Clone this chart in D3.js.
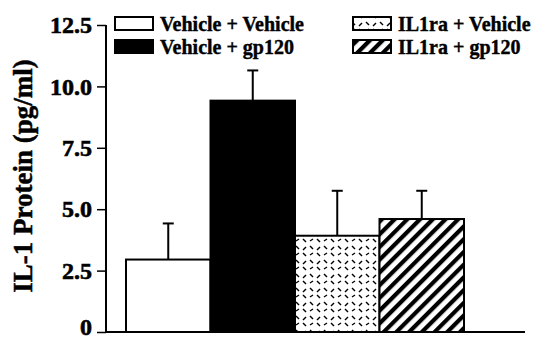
<!DOCTYPE html>
<html>
<head>
<meta charset="utf-8">
<script src="https://cdn.jsdelivr.net/npm/d3@7"></script>
<style>
  html, body { margin: 0; padding: 0; background: #fff; }
  svg { display: block; }
  text { font-family: "Liberation Serif", "Times New Roman", serif; font-weight: bold; fill: #000; stroke: #000; stroke-width: 0.4px; }
</style>
</head>
<body>
<svg id="chart" width="542" height="340"></svg>
<script>
// Treatment groups, mean IL-1 protein and upper error limit (mean + SEM)
const groups = ["Vehicle + Vehicle", "Vehicle + gp120", "IL1ra + Vehicle", "IL1ra + gp120"];
const means = [2.95, 9.42, 3.92, 4.6];
const upper = [4.42, 10.65, 5.75, 5.75];
const fills = ["white", "black", "url(#dots)", "url(#stripes)"];
const yTicks = [0, 2.5, 5.0, 7.5, 10.0, 12.5];
const yTickLabels = ["0", "2.5", "5.0", "7.5", "10.0", "12.5"];

const svg = d3.select("#chart");

// Fill patterns
const defs = svg.append("defs");
const dots = defs.append("pattern")
  .attr("id", "dots").attr("patternUnits", "userSpaceOnUse")
  .attr("width", 14).attr("height", 14);
dots.append("rect").attr("width", 14).attr("height", 14).attr("fill", "white");
[[2, 3, 5, 1], [9, 1, 12, 4], [2, 8, 5, 11], [9, 12, 12, 9]].forEach(s => {
  dots.append("line")
    .attr("x1", s[0]).attr("y1", s[1]).attr("x2", s[2]).attr("y2", s[3])
    .attr("stroke", "black").attr("stroke-width", 1.4);
});
const stripes = defs.append("pattern")
  .attr("id", "stripes").attr("patternUnits", "userSpaceOnUse")
  .attr("width", 9).attr("height", 9)
  .attr("patternTransform", "rotate(45)");
stripes.append("rect").attr("width", 9).attr("height", 9).attr("fill", "white");
stripes.append("rect").attr("width", 4.2).attr("height", 9).attr("fill", "black");

const y = d3.scaleLinear().domain([0, 12.5]).range([332, 25]);
const x = d3.scaleBand().domain(groups).range([126, 464]).padding(0);

// Y axis
const yAxis = d3.axisLeft(y)
  .tickValues(yTicks)
  .tickFormat((d, i) => yTickLabels[i])
  .tickSize(9).tickPadding(5);
const gy = svg.append("g").attr("transform", "translate(106,0)").call(yAxis);
gy.select(".domain").attr("stroke-width", 2).attr("d", "M0,25V332");
gy.selectAll(".tick line").attr("stroke-width", 1.5);
gy.selectAll(".tick text")
  .style("font-size", "24px").style("font-family", "Liberation Serif").style("font-weight", "bold")
  .style("stroke-width", "0.6px")
  .attr("dy", d => d === 0 ? "0.1em" : "0.32em");

// X axis baseline
svg.append("line")
  .attr("x1", 105).attr("x2", 525)
  .attr("y1", y(0)).attr("y2", y(0))
  .attr("stroke", "black").attr("stroke-width", 2);

// Error bars (upper only)
const eb = svg.append("g");
groups.forEach((g, i) => {
  const cx = x(g) + x.bandwidth() / 2;
  eb.append("line").attr("x1", cx).attr("x2", cx)
    .attr("y1", y(means[i])).attr("y2", y(upper[i]))
    .attr("stroke", "black").attr("stroke-width", 2);
  eb.append("line").attr("x1", cx - 5.5).attr("x2", cx + 5.5)
    .attr("y1", y(upper[i])).attr("y2", y(upper[i]))
    .attr("stroke", "black").attr("stroke-width", 2);
});

// Bars
svg.append("g").selectAll("rect").data(groups).join("rect")
  .attr("x", d => x(d))
  .attr("y", (d, i) => y(means[i]))
  .attr("width", x.bandwidth())
  .attr("height", (d, i) => y(0) - y(means[i]))
  .attr("fill", (d, i) => fills[i])
  .attr("stroke", "black").attr("stroke-width", 2);

// Y axis title
svg.append("text")
  .attr("transform", "translate(32,176) rotate(-90)")
  .attr("text-anchor", "middle")
  .style("font-size", "27px")
  .style("stroke-width", "0.5px")
  .text("IL-1 Protein (pg/ml)");

// Legend
const legendPos = [[115, 17], [115, 40], [353, 17], [353, 40]];
const legend = svg.append("g");
groups.forEach((g, i) => {
  const [lx, ly] = legendPos[i];
  legend.append("rect").attr("x", lx).attr("y", ly)
    .attr("width", 38).attr("height", 13)
    .attr("fill", fills[i]).attr("stroke", "black").attr("stroke-width", 2);
  legend.append("text").attr("x", lx + 45).attr("y", ly + 14)
    .style("font-size", "20px").text(g);
});
</script>
</body>
</html>
